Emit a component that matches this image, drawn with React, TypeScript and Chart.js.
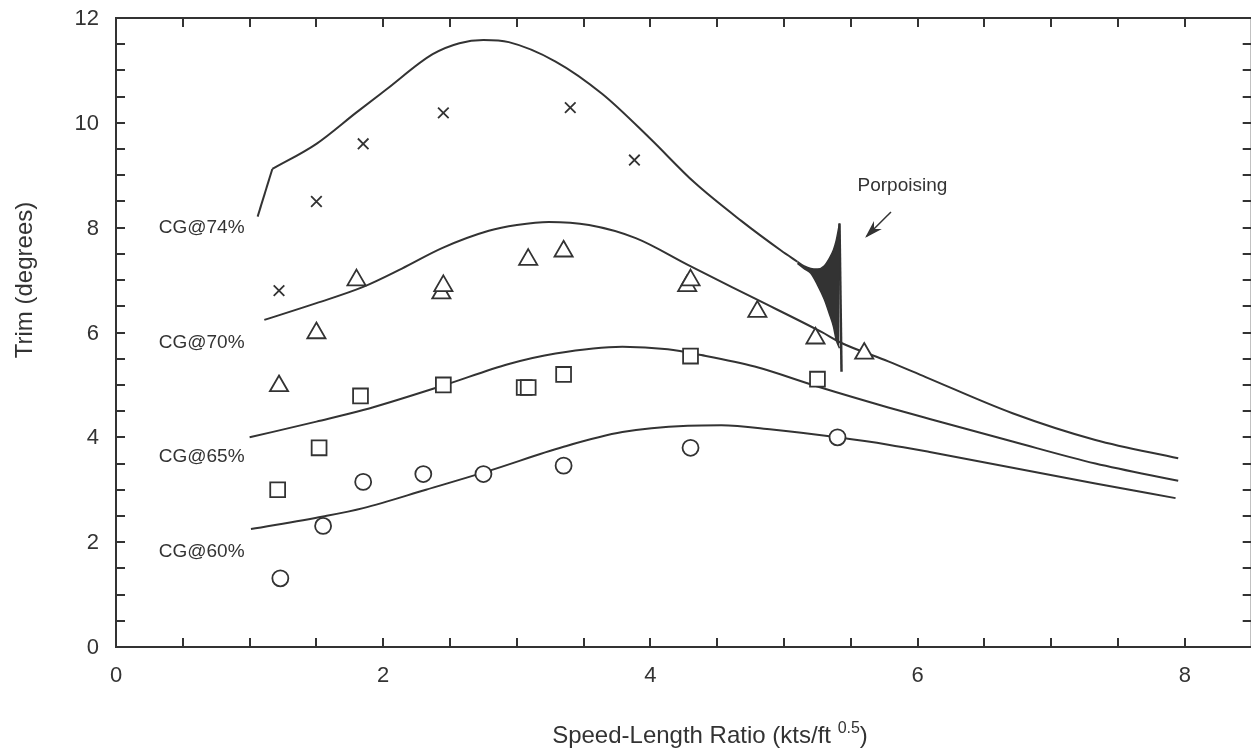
import React, { useEffect, useRef } from 'react';
import { Chart, registerables } from 'chart.js';

Chart.register(...registerables);

// ---------- axis ticks ----------
const xTickValues = [0, 2, 4, 6, 8];
const xTickLabels = ['0', '2', '4', '6', '8'];
const yTickValues = [0, 2, 4, 6, 8, 10, 12];
const yTickLabels = ['0', '2', '4', '6', '8', '10', '12'];
const minorStep = 0.5;

// ---------- measured data (markers) ----------
const cg74MeasX = [1.22, 1.5, 1.85, 2.45, 3.4, 3.88];
const cg74MeasY = [6.8, 8.5, 9.6, 10.19, 10.29, 9.29];

const cg70MeasX = [1.22, 1.5, 1.8, 2.435, 2.45, 3.085, 3.35, 4.275, 4.3, 4.8, 5.235, 5.6];
const cg70MeasY = [4.98, 5.99, 7.0, 6.75, 6.89, 7.39, 7.55, 6.89, 7.0, 6.4, 5.89, 5.6];

const cg65MeasX = [1.21, 1.52, 1.83, 2.45, 3.055, 3.085, 3.35, 4.3, 5.25];
const cg65MeasY = [3.0, 3.8, 4.79, 5.0, 4.95, 4.95, 5.2, 5.55, 5.11];

const cg60MeasX = [1.23, 1.55, 1.85, 2.3, 2.75, 3.35, 4.3, 5.4];
const cg60MeasY = [1.31, 2.31, 3.15, 3.3, 3.3, 3.46, 3.8, 4.0];

// ---------- predicted curves ----------
const cg74StartX = [1.06, 1.17];
const cg74StartY = [8.21, 9.12];
const cg74CurveX = [1.17, 1.5, 1.8, 2.02, 2.37, 2.57, 2.75, 2.94, 3.29, 3.64, 3.99, 4.33, 4.68, 4.98, 5.1];
const cg74CurveY = [9.12, 9.6, 10.2, 10.63, 11.31, 11.52, 11.58, 11.54, 11.17, 10.55, 9.72, 8.86, 8.13, 7.56, 7.35];

const porpX = [5.1, 5.15, 5.2, 5.25, 5.3, 5.34, 5.37, 5.39, 5.415];
const porpUpperY = [7.35, 7.27, 7.22, 7.21, 7.27, 7.42, 7.58, 7.75, 8.08];
const porpLowerY = [7.32, 7.22, 7.13, 6.91, 6.64, 6.35, 6.11, 5.86, 5.7];
const spikeX = [5.415, 5.43];
const spikeY = [8.08, 5.25];

const cg70CurveX = [1.11, 1.5, 1.85, 2.14, 2.44, 2.79, 3.0, 3.24, 3.54, 3.89, 4.28, 4.78, 5.28, 5.43, 5.78, 6.06, 6.71, 7.33, 7.95];
const cg70CurveY = [6.24, 6.56, 6.87, 7.22, 7.61, 7.94, 8.05, 8.11, 8.05, 7.8, 7.29, 6.65, 6.01, 5.8, 5.45, 5.15, 4.46, 3.95, 3.6];

const cg65CurveX = [1.0, 1.5, 1.85, 2.45, 2.94, 3.29, 3.79, 4.13, 4.38, 4.78, 5.25, 5.78, 6.09, 6.71, 7.33, 7.95];
const cg65CurveY = [4.0, 4.3, 4.52, 4.99, 5.4, 5.6, 5.73, 5.68, 5.57, 5.35, 4.97, 4.57, 4.35, 3.92, 3.5, 3.17];

const cg60CurveX = [1.01, 1.55, 1.85, 2.32, 2.79, 3.35, 3.79, 4.28, 4.53, 4.91, 5.4, 5.78, 6.09, 6.71, 7.33, 7.93];
const cg60CurveY = [2.25, 2.49, 2.65, 3.0, 3.36, 3.82, 4.1, 4.22, 4.23, 4.15, 4.0, 3.86, 3.72, 3.42, 3.12, 2.84];

// ---------- annotations ----------
const curveLabels = ['CG@74%', 'CG@70%', 'CG@65%', 'CG@60%'];
const curveLabelY = [7.99, 5.8, 3.62, 1.81];
const porpoiseText = 'Porpoising';

const INK = '#333333';
const FONT = "'Liberation Sans', Arial, Helvetica, sans-serif";

const pts = (xs: number[], ys: number[]) => xs.map((x, i) => ({ x, y: ys[i] }));

const framePlugin = {
  id: 'frame',
  afterDraw(chart: any) {
    const { ctx, chartArea, scales } = chart;
    const xs = scales.x;
    const ys = scales.y;
    const { left, right, top, bottom } = chartArea;
    ctx.save();
    ctx.strokeStyle = INK;
    ctx.lineWidth = 2;
    ctx.beginPath();
    ctx.rect(left, top, right - left, bottom - top);
    ctx.stroke();

    const tl = 9;
    ctx.beginPath();
    for (let v = minorStep; v < xs.max - 1e-6; v += minorStep) {
      const px = Math.round(xs.getPixelForValue(v));
      ctx.moveTo(px, bottom);
      ctx.lineTo(px, bottom - tl);
      ctx.moveTo(px, top);
      ctx.lineTo(px, top + tl);
    }
    for (let v = minorStep; v < ys.max - 1e-6; v += minorStep) {
      const py = Math.round(ys.getPixelForValue(v));
      ctx.moveTo(left, py);
      ctx.lineTo(left + tl, py);
      ctx.moveTo(right, py);
      ctx.lineTo(right - tl, py);
    }
    ctx.stroke();

    // tick labels
    ctx.fillStyle = INK;
    ctx.font = `22px ${FONT}`;
    ctx.textAlign = 'center';
    ctx.textBaseline = 'middle';
    xTickValues.forEach((v, i) => {
      ctx.fillText(xTickLabels[i], xs.getPixelForValue(v), bottom + 29);
    });
    ctx.textAlign = 'right';
    yTickValues.forEach((v, i) => {
      ctx.fillText(yTickLabels[i], left - 17, ys.getPixelForValue(v) + 1);
    });

    // y title
    ctx.save();
    ctx.font = `24px ${FONT}`;
    ctx.textAlign = 'center';
    ctx.textBaseline = 'middle';
    ctx.translate(25, 280);
    ctx.rotate(-Math.PI / 2);
    ctx.fillText('Trim (degrees)', 0, 0);
    ctx.restore();

    // x title with superscript
    const main = 'Speed-Length Ratio (kts/ft ';
    const sup = '0.5';
    const close = ')';
    ctx.textAlign = 'left';
    ctx.textBaseline = 'alphabetic';
    ctx.font = `24px ${FONT}`;
    const wMain = ctx.measureText(main).width;
    ctx.font = `16px ${FONT}`;
    const wSup = ctx.measureText(sup).width;
    ctx.font = `24px ${FONT}`;
    const wClose = ctx.measureText(close).width;
    const total = wMain + wSup + wClose;
    const x0 = 710 - total / 2;
    const base = 743;
    ctx.fillText(main, x0, base);
    ctx.font = `16px ${FONT}`;
    ctx.fillText(sup, x0 + wMain, base - 10);
    ctx.font = `24px ${FONT}`;
    ctx.fillText(close, x0 + wMain + wSup, base);

    // curve labels
    ctx.font = `19px ${FONT}`;
    ctx.textAlign = 'left';
    ctx.textBaseline = 'middle';
    curveLabels.forEach((t, i) => {
      ctx.fillText(t, xs.getPixelForValue(0.32), ys.getPixelForValue(curveLabelY[i]));
    });

    // porpoising note + arrow
    ctx.fillText(porpoiseText, xs.getPixelForValue(5.55), ys.getPixelForValue(8.79));
    const ax1 = xs.getPixelForValue(5.8), ay1 = ys.getPixelForValue(8.3);
    const ax2 = xs.getPixelForValue(5.62), ay2 = ys.getPixelForValue(7.84);
    ctx.lineWidth = 1.5;
    ctx.beginPath();
    ctx.moveTo(ax1, ay1);
    ctx.lineTo(ax2, ay2);
    ctx.stroke();
    const ang = Math.atan2(ay2 - ay1, ax2 - ax1);
    const hl = 13, hw = 4;
    ctx.beginPath();
    ctx.moveTo(ax2, ay2);
    ctx.lineTo(ax2 - hl * Math.cos(ang) + hw * Math.sin(ang), ay2 - hl * Math.sin(ang) - hw * Math.cos(ang));
    ctx.lineTo(ax2 - hl * 0.7 * Math.cos(ang), ay2 - hl * 0.7 * Math.sin(ang));
    ctx.lineTo(ax2 - hl * Math.cos(ang) - hw * Math.sin(ang), ay2 - hl * Math.sin(ang) + hw * Math.cos(ang));
    ctx.closePath();
    ctx.stroke();
    ctx.fill();
    ctx.restore();
  },
};

const lineDs = (label: string, xs: number[], ys: number[], extra: any = {}) => ({
  type: 'line',
  label,
  data: pts(xs, ys),
  borderColor: INK,
  borderWidth: 2,
  pointRadius: 0,
  cubicInterpolationMode: 'monotone',
  fill: false,
  order: 10,
  ...extra,
});

const markerDs = (label: string, xs: number[], ys: number[], style: string, radius: number) => ({
  type: 'scatter',
  label,
  data: pts(xs, ys),
  pointStyle: style,
  pointRadius: radius,
  pointBorderColor: INK,
  pointBackgroundColor: '#ffffff',
  pointBorderWidth: 1.8,
  showLine: false,
  order: 1,
});

export default function App() {
  const ref = useRef<HTMLCanvasElement | null>(null);
  useEffect(() => {
    document.body.style.margin = '0';
    if (!ref.current) return;
    const chart = new Chart(ref.current, {
      type: 'scatter',
      data: {
        datasets: [
          markerDs('CG@74% data', cg74MeasX, cg74MeasY, 'crossRot', 7.5),
          markerDs('CG@70% data', cg70MeasX, cg70MeasY, 'triangle', 10.5),
          markerDs('CG@65% data', cg65MeasX, cg65MeasY, 'rect', 10.5),
          markerDs('CG@60% data', cg60MeasX, cg60MeasY, 'circle', 8),
          lineDs('CG@74% model start', cg74StartX, cg74StartY, { cubicInterpolationMode: 'default', tension: 0 }),
          lineDs('CG@74% model', cg74CurveX, cg74CurveY),
          lineDs('Porpoising upper', porpX, porpUpperY, {
            fill: '+1',
            backgroundColor: INK,
            borderWidth: 1.5,
          }),
          lineDs('Porpoising lower', porpX, porpLowerY, { borderWidth: 1.5 }),
          lineDs('Porpoising spike', spikeX, spikeY, { cubicInterpolationMode: 'default', tension: 0, borderWidth: 2.5 }),
          lineDs('CG@70% model', cg70CurveX, cg70CurveY),
          lineDs('CG@65% model', cg65CurveX, cg65CurveY),
          lineDs('CG@60% model', cg60CurveX, cg60CurveY),
        ] as any,
      },
      options: {
        animation: false,
        responsive: false,
        maintainAspectRatio: false,
        layout: { padding: { left: 116, top: 18, right: 9, bottom: 102 } },
        plugins: {
          legend: { display: false },
          tooltip: { enabled: false },
          filler: { propagate: false },
        },
        scales: {
          x: { type: 'linear', min: 0, max: 8.5, display: false },
          y: { type: 'linear', min: 0, max: 12, display: false },
        },
      } as any,
      plugins: [framePlugin],
    });
    return () => chart.destroy();
  }, []);
  return (
    <div style={{ position: 'fixed', left: 0, top: 0, width: 1251, height: 749, overflow: 'hidden', background: '#fff' }}>
      <canvas ref={ref} width={1264} height={749} style={{ display: 'block' }} />
    </div>
  );
}
